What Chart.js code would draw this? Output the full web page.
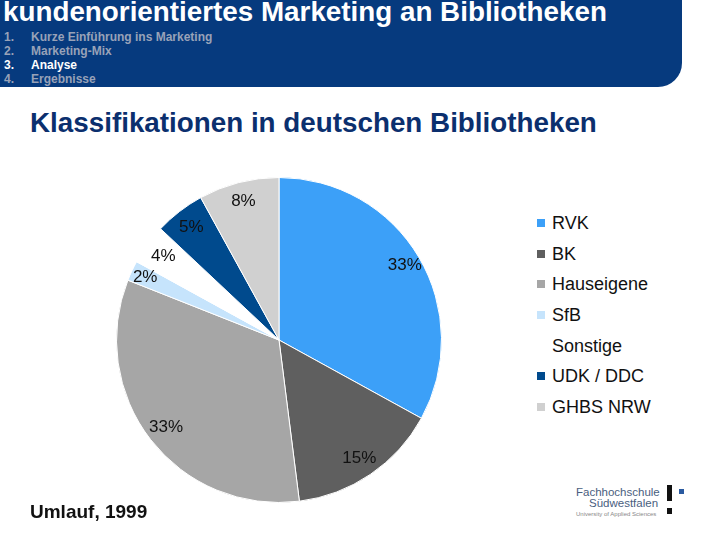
<!DOCTYPE html>
<html>
<head>
<meta charset="utf-8">
<script src="https://cdn.jsdelivr.net/npm/chart.js@4"></script>
<style>
  body { margin: 0; width: 720px; height: 540px; background: #fff; position: relative; overflow: hidden; font-family: "Liberation Sans", Arial, sans-serif; }
  #band { position: absolute; left: 0; top: 0; width: 682px; height: 87px; background: #063a7e; border-bottom-right-radius: 24px; }
  #title { position: absolute; left: 3px; top: -4px; color: #fff; font-weight: bold; font-size: 27.8px; white-space: nowrap; }
  .menu { position: absolute; left: 4px; font-size: 12px; font-weight: bold; color: #98a2b8; white-space: nowrap; }
  .menu span { position: absolute; left: 27px; }
  .menu.on { color: #fff; }
  #sub { position: absolute; left: 30px; top: 107px; font-size: 27.8px; font-weight: bold; color: #0b2f6e; white-space: nowrap; }
  #box { position: absolute; left: 116px; top: 177px; width: 326px; height: 326px; }
  #legend { position: absolute; left: 537px; top: 213px; }
  .li { height: 30.7px; font-size: 18px; color: #111; display: flex; align-items: flex-start; }
  .sw { width: 8px; height: 8px; margin: 6px 7px 0 0; }
  #src { position: absolute; left: 30px; top: 501px; font-size: 19px; font-weight: bold; color: #111; }
  #logo { position: absolute; left: 576px; top: 484px; width: 120px; height: 36px; }
  #logo .l1 { position: absolute; left: 0; top: 2px; font-size: 11.5px; color: #4a5e80; }
  #logo .l2 { position: absolute; left: 13px; top: 13px; font-size: 11.5px; color: #4a5e80; }
  #logo .l3 { position: absolute; left: 0; top: 27px; font-size: 6px; color: #888; }
  #logo .bar { position: absolute; left: 91px; top: 1px; width: 5px; height: 16px; background: #111; }
  #logo .dot { position: absolute; left: 91px; top: 24px; width: 5px; height: 6px; background: #111; }
  #logo .bl { position: absolute; left: 103px; top: 5px; width: 5px; height: 5px; background: #2a5aa0; }
</style>
</head>
<body>
<div id="band"></div>
<div id="title">kundenorientiertes Marketing an Bibliotheken</div>
<div class="menu" style="top:30px">1.<span>Kurze Einführung ins Marketing</span></div>
<div class="menu" style="top:44px">2.<span>Marketing-Mix</span></div>
<div class="menu on" style="top:58px">3.<span>Analyse</span></div>
<div class="menu" style="top:72px">4.<span>Ergebnisse</span></div>
<div id="sub">Klassifikationen in deutschen Bibliotheken</div>
<div id="box"><canvas id="pie"></canvas></div>
<div id="legend"></div>
<div id="src">Umlauf, 1999</div>
<div id="logo">
  <div class="l1">Fachhochschule</div>
  <div class="l2">Südwestfalen</div>
  <div class="l3">University of Applied Sciences</div>
  <div class="bar"></div><div class="dot"></div><div class="bl"></div>
</div>
<script>
const categories = ["RVK", "BK", "Hauseigene", "SfB", "Sonstige", "UDK / DDC", "GHBS NRW"];
const shares = [33, 15, 33, 2, 4, 5, 8];
const colors = ["#3ca0f8", "#5f5f5f", "#a6a6a6", "#c6e4fc", "#ffffff", "#004a8d", "#d0d0d0"];

// percent labels at ~0.88 of radius
const pctLabels = {
  id: "pctLabels",
  afterDatasetsDraw(chart) {
    const ctx = chart.ctx;
    const meta = chart.getDatasetMeta(0);
    ctx.save();
    ctx.font = "17px 'Liberation Sans', Arial, sans-serif";
    ctx.fillStyle = "#111";
    ctx.textAlign = "center";
    ctx.textBaseline = "middle";
    const extra = [0.02, 0, 0, 0.03, 0, 0, 0];
    meta.data.forEach((arc, i) => {
      const p = arc.getProps(["x", "y", "startAngle", "endAngle", "outerRadius"], true);
      const mid = (p.startAngle + p.endAngle) / 2;
      const r = p.outerRadius * (0.88 + extra[i]);
      ctx.fillText(shares[i] + "%", p.x + Math.cos(mid) * r, p.y + Math.sin(mid) * r);
    });
    ctx.restore();
  }
};

new Chart(document.getElementById("pie"), {
  type: "pie",
  data: {
    labels: categories,
    datasets: [{
      data: shares,
      backgroundColor: colors,
      borderColor: "#ffffff",
      borderWidth: 1
    }]
  },
  options: {
    responsive: true,
    maintainAspectRatio: false,
    animation: false,
    layout: { padding: 0 },
    plugins: {
      legend: { display: false },
      tooltip: { enabled: false }
    }
  },
  plugins: [pctLabels]
});

const legend = document.getElementById("legend");
categories.forEach((name, i) => {
  const row = document.createElement("div");
  row.className = "li";
  row.innerHTML = '<div class="sw" style="background:' + colors[i] + '"></div>' + name;
  legend.appendChild(row);
});
</script>
</body>
</html>
